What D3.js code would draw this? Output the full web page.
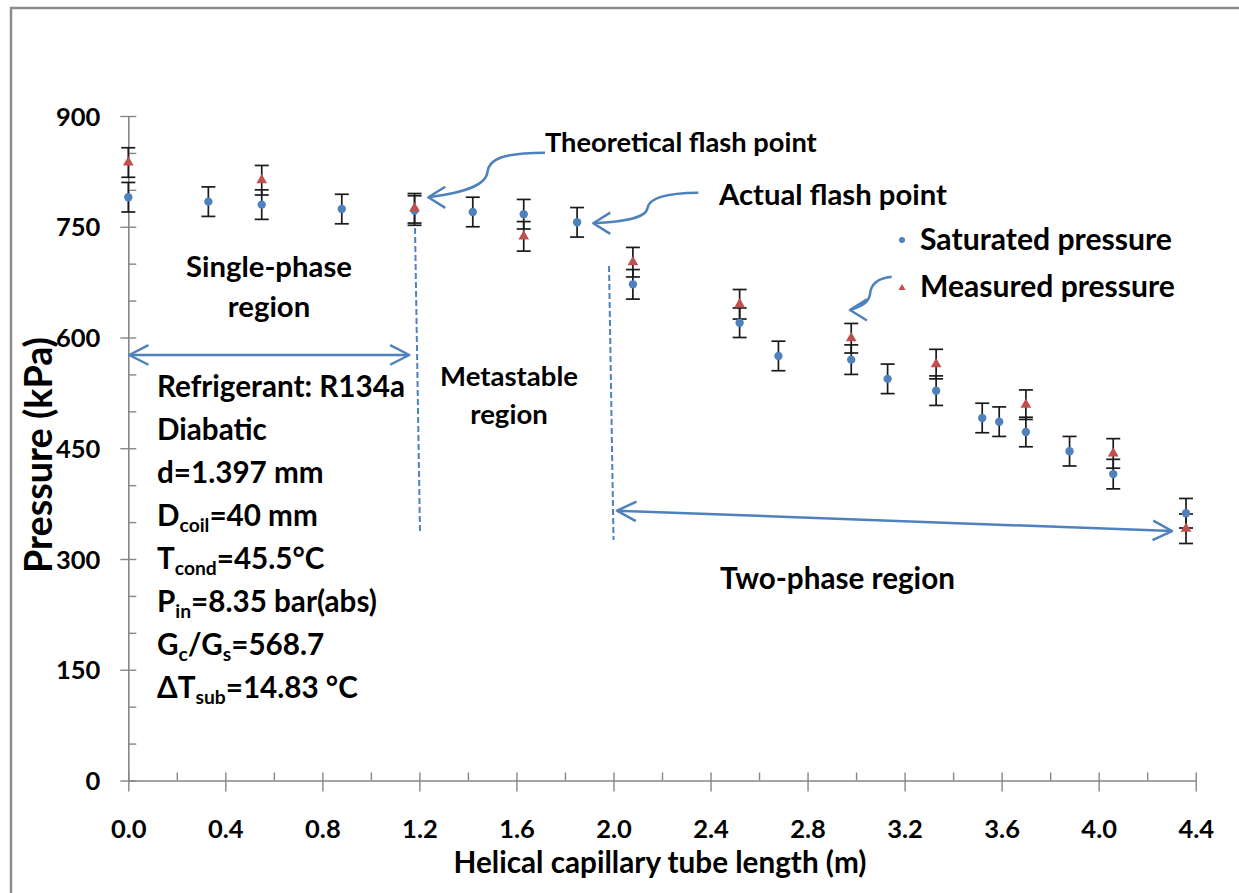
<!DOCTYPE html>
<html><head><meta charset="utf-8">
<script src="https://cdn.jsdelivr.net/npm/d3@7"></script>
<style>
body{margin:0;background:#fff}
svg{display:block}
text{font-family:Lato,"Open Sans",sans-serif;fill:#000;font-weight:bold}
</style>
</head><body>
<svg id="c" width="1239" height="893"></svg>
<script>
// ---------- data ----------
const satX  = [0.00,0.33,0.55,0.88,1.18,1.42,1.63,1.85,2.08,2.52,2.68,2.98,3.13,3.33,3.52,3.59,3.70,3.88,4.06,4.36];
const satP  = [790,784,780,774,772,770,767,756,672,620,575,570,544,528,491,486,472,446,415,362];
const measX = [0.00,0.55,1.18,1.63,2.08,2.52,2.98,3.33,3.70,4.06,4.36];
const measP = [837,813,775,737,702,645,599,564,509,443,341];
const errP  = 20; // kPa, error bar half-width
const xTicks = [0.0,0.4,0.8,1.2,1.6,2.0,2.4,2.8,3.2,3.6,4.0,4.4];
const xMinor = [0.2,0.6,1.0,1.4,1.8,2.2,2.6,3.0,3.4,3.8,4.2];
const yTicks = [0,150,300,450,600,750,900];
const yMinor = [50,100,200,250,350,400,500,550,650,700,800,850];
const seriesNames = ["Saturated pressure","Measured pressure"];
const infoLines = [
  [["Refrigerant: R134a"]],
  [["Diabatic"]],
  [["d=1.397 mm"]],
  [["D"],["coil",1],["=40 mm"]],
  [["T"],["cond",1],["=45.5°C"]],
  [["P"],["in",1],["=8.35 bar(abs)"]],
  [["G"],["c",1],["/G"],["s",1],["=568.7"]],
  [["ΔT"],["sub",1],["=14.83 °C"]]
];

// ---------- setup ----------
const BLUE = "#4F81BD", RED = "#C0504D", AX = "#868686";
const svg = d3.select("#c");
const x = d3.scaleLinear().domain([0,4.4]).range([128.3,1195.7]);
const y = d3.scaleLinear().domain([0,900]).range([780.5,116]);

function fit(sel, target){
  const w = sel.node().getComputedTextLength();
  const fs = parseFloat(sel.attr("font-size"));
  const n = fs*target/w;
  sel.attr("font-size", n);
  return n;
}

// outer frame
svg.append("rect").attr("x",11).attr("y",8).attr("width",1300).attr("height",1000)
  .attr("fill","none").attr("stroke","#8c8c8c").attr("stroke-width",2.5);

// ---------- axes ----------
const gx = svg.append("g").attr("transform",`translate(0,${y(0)})`);
gx.call(d3.axisBottom(x).tickValues(xMinor).tickSize(-8).tickFormat(""));
gx.call(g=>g.select(".domain").remove());
const gx2 = svg.append("g").attr("transform",`translate(0,${y(0)})`)
  .call(d3.axisBottom(x).tickValues(xTicks).tickSizeInner(11).tickSizeOuter(0).tickFormat(d3.format(".1f")));
gx2.selectAll(".tick line").attr("y1",-8).attr("y2",11);

const gy = svg.append("g").attr("transform",`translate(${x(0)},0)`);
gy.call(d3.axisLeft(y).tickValues(yMinor).tickSize(-8).tickFormat(""));
gy.call(g=>g.select(".domain").remove());
const gy2 = svg.append("g").attr("transform",`translate(${x(0)},0)`)
  .call(d3.axisLeft(y).tickValues(yTicks).tickSizeInner(8).tickSizeOuter(0));
gy2.selectAll(".tick line").attr("x1",8).attr("x2",-8);

svg.selectAll(".domain").attr("stroke",AX).attr("stroke-width",1.6);
svg.selectAll(".tick line").attr("stroke",AX).attr("stroke-width",1.4);

// tick labels
svg.selectAll(".tick text").attr("font-family",'Lato,"Open Sans",sans-serif')
  .attr("font-weight","bold").attr("font-size",25.5).attr("fill","#000");
gx2.selectAll(".tick text").attr("y",57).attr("dy",0);
gy2.selectAll(".tick text").attr("x",-28).attr("dy",0).attr("y",9);

// axis titles
const yt = svg.append("text").attr("transform","translate(52,455) rotate(-90)")
  .attr("text-anchor","middle").attr("font-size",30).text("Pressure (kPa)");
fit(yt,236);
const xt = svg.append("text").attr("x",660).attr("y",873).attr("text-anchor","middle")
  .attr("font-size",22).text("Helical capillary tube length (m)");
fit(xt,413);

// ---------- annotations ----------
const line = d3.line().x(d=>x(d[0])).y(d=>y(d[1]));
function bez(pts){ // pts in data coords: M, then groups of 3 for C
  const p = pts.map(d=>[x(d[0]),y(d[1])]);
  let s = `M${p[0][0]},${p[0][1]}`;
  for(let i=1;i<p.length;i+=3) s+=`C${p[i][0]},${p[i][1]} ${p[i+1][0]},${p[i+1][1]} ${p[i+2][0]},${p[i+2][1]}`;
  return s;
}
function head(tipD, angDeg, L, aDeg){
  const t=[x(tipD[0]),y(tipD[1])], th=angDeg*Math.PI/180, a=aDeg*Math.PI/180;
  const p1=[t[0]-L*Math.cos(th+a), t[1]-L*Math.sin(th+a)];
  const p2=[t[0]-L*Math.cos(th-a), t[1]-L*Math.sin(th-a)];
  svg.append("path").attr("d",`M${p1[0]},${p1[1]}L${t[0]},${t[1]}L${p2[0]},${p2[1]}`)
    .attr("fill","none").attr("stroke",BLUE).attr("stroke-width",2.5).attr("stroke-linejoin","round");
}
const ann = svg.append("g").attr("fill","none").attr("stroke",BLUE);

// dashed region boundaries
const dash1 = [[1.1819,748.3],[1.2025,335.2]];
const dash2 = [[1.9816,696.9],[2.0001,325.7]];
[dash1,dash2].forEach(d=>ann.append("path").attr("d",line(d))
  .attr("stroke-width",2).attr("stroke-dasharray","6,3"));

// single-phase double arrow
const spA = [[0.004,576.3],[1.1583,576.3]];
ann.append("path").attr("d",line(spA)).attr("stroke-width",2.5);
head(spA[0],180,21.5,27); head(spA[1],0,21.5,27);

// two-phase double arrow
const tpA = [[2.0145,365.4],[4.3024,337.9]];
ann.append("path").attr("d",line(tpA)).attr("stroke-width",2.5);
{
  const dx = x(tpA[1][0])-x(tpA[0][0]), dy = y(tpA[1][1])-y(tpA[0][1]);
  const ang = Math.atan2(dy,dx)*180/Math.PI;
  head(tpA[1],ang,21.5,27); head(tpA[0],ang+180,21.5,27);
}

// curved arrows
const theoA = [[1.7177,850.3],[1.5528,849.9],[1.4869,843.1],[1.4807,824.2],[1.4745,802.5],[1.3467,794.4],[1.2367,789.9]];
const actA  = [[2.3496,796.1],[2.2124,795.7],[2.1464,788.9],[2.1402,775.4],[2.1340,760.5],[2.0269,756.4],[1.9168,754.7]];
const legA  = [[3.1468,682.3],[3.0904,680.6],[3.0615,672.5],[3.0574,658.9],[3.0533,646.7],[3.0162,641.3],[2.9750,637.3]];
[theoA,actA,legA].forEach(a=>{
  ann.append("path").attr("d",bez(a)).attr("stroke-width",2.5);
  head(a[a.length-1],180,20,32);
});

// ---------- data marks ----------
function errBars(xs, ps){
  const g = svg.append("g").attr("stroke","#1a1a1a").attr("stroke-width",1.7);
  xs.forEach((xv,i)=>{
    const cx=x(xv), y1=y(ps[i]+errP), y2=y(ps[i]-errP);
    g.append("line").attr("x1",cx).attr("x2",cx).attr("y1",y1).attr("y2",y2);
    g.append("line").attr("x1",cx-7).attr("x2",cx+7).attr("y1",y1).attr("y2",y1);
    g.append("line").attr("x1",cx-7).attr("x2",cx+7).attr("y1",y2).attr("y2",y2);
  });
}
errBars(satX,satP);
errBars(measX,measP);

svg.append("g").selectAll("circle").data(satX).join("circle")
  .attr("cx",d=>x(d)).attr("cy",(d,i)=>y(satP[i])).attr("r",4.2).attr("fill",BLUE);
const tri = d3.symbol().type(d3.symbolTriangle).size(50);
svg.append("g").selectAll("path").data(measX).join("path")
  .attr("d",tri).attr("fill",RED)
  .attr("transform",(d,i)=>`translate(${x(d)},${y(measP[i])})`);

// ---------- legend ----------
svg.append("circle").attr("cx",902).attr("cy",240).attr("r",3).attr("fill",BLUE);
svg.append("path").attr("d",d3.symbol().type(d3.symbolTriangle).size(22)).attr("fill",RED)
  .attr("transform","translate(902,288)");
fit(svg.append("text").attr("x",920).attr("y",250).attr("font-size",26).text(seriesNames[0]),252);
fit(svg.append("text").attr("x",920).attr("y",297).attr("font-size",26).text(seriesNames[1]),255);

// ---------- text annotations ----------
fit(svg.append("text").attr("x",545).attr("y",151.5).attr("font-size",26).text("Theoretical flash point"),272);
fit(svg.append("text").attr("x",719).attr("y",205).attr("font-size",26).text("Actual flash point"),228);
const s1 = svg.append("text").attr("x",269).attr("y",277).attr("text-anchor","middle").attr("font-size",26).text("Single-phase");
const sfs = fit(s1,166);
svg.append("text").attr("x",269).attr("y",317).attr("text-anchor","middle").attr("font-size",sfs).text("region");
const m1 = svg.append("text").attr("x",509).attr("y",386).attr("text-anchor","middle").attr("font-size",26).text("Metastable");
const mfs = fit(m1,138);
svg.append("text").attr("x",509).attr("y",424).attr("text-anchor","middle").attr("font-size",mfs).text("region");
fit(svg.append("text").attr("x",720).attr("y",589).attr("font-size",26).text("Two-phase region"),235);

// info block
const info = svg.append("g");
let ifs = 26;
infoLines.forEach((parts,i)=>{
  const t = info.append("text").attr("x",157).attr("y",397+43*i).attr("font-size",ifs);
  let shifted=false;
  parts.forEach(p=>{
    const ts = t.append("tspan").text(p[0]);
    if(p[1]){ ts.attr("font-size","65%").attr("dy",shifted?0:6); shifted=true; }
    else if(shifted){ ts.attr("dy",-6); shifted=false; }
  });
  if(i===0){ ifs = fit(t,248); }
});
info.selectAll("text").attr("font-size",ifs);
</script>
</body></html>
